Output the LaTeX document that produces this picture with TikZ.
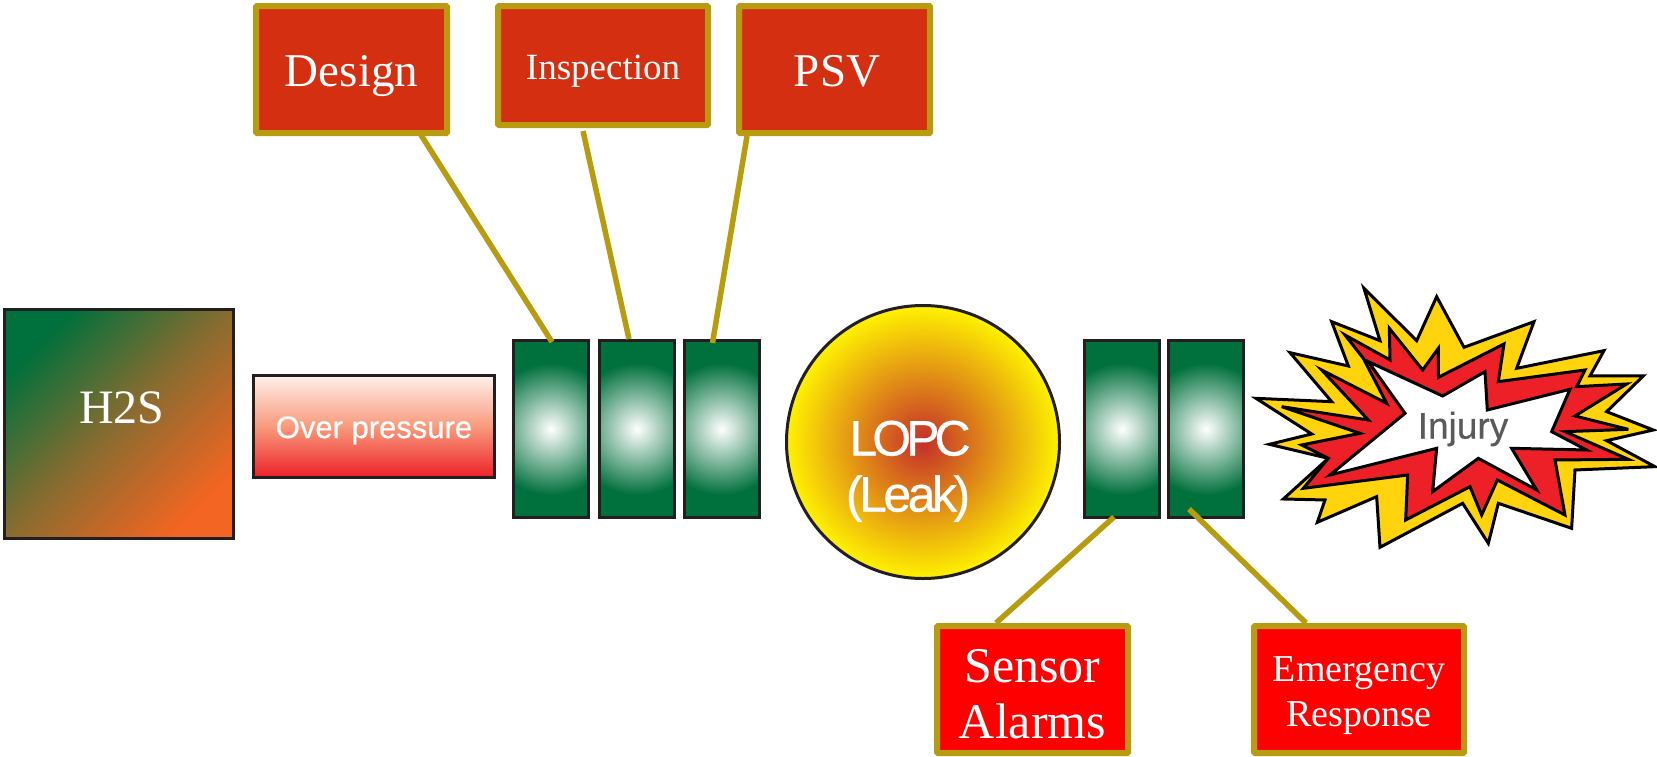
\documentclass[tikz,border=0pt]{standalone}
\usepackage{fontspec}
\setmainfont{Liberation Serif}
\newfontfamily\labelsans[FakeBold=0.6]{Liberation Sans}
\newfontfamily\tightsans[LetterSpace=-10,FakeBold=0.6]{Liberation Sans}
\newfontfamily\snugsans[LetterSpace=-7,FakeBold=0.6]{Liberation Sans}
\usetikzlibrary{calc}
\definecolor{gold}{HTML}{B89B0E}
\definecolor{brick}{HTML}{D42F10}
\definecolor{pure}{HTML}{FF0000}
\definecolor{dark}{HTML}{231F20}
\definecolor{leaf}{HTML}{00703C}
\definecolor{tang}{HTML}{F26522}
\definecolor{earth}{HTML}{8A6C30}
\definecolor{salmon}{HTML}{F89A7C}
\definecolor{blush}{HTML}{FEF0EA}
\definecolor{burstyellow}{HTML}{FFD40C}
\definecolor{burstred}{HTML}{ED2027}
\definecolor{slategrey}{HTML}{5A5A5A}
\definecolor{core}{HTML}{C42E2A}
\definecolor{rim}{HTML}{FFF200}
\pgfdeclareradialshading{glow}{\pgfpoint{0bp}{0bp}}{color(0bp)=(white); color(66bp)=(leaf)}
\tikzset{
  barrier/.style={draw=gold,line width=6pt,rounded corners=1pt,inner sep=0pt,text=white,align=center},
  greenbar/.style={draw=dark,line width=3pt,fill=leaf,inner sep=0pt,minimum width=75pt,minimum height=177pt,
    path picture={\path (path picture bounding box.center) node[inner sep=0pt,outer sep=0pt,draw=none] {\pgfuseshading{glow}};}},
  link/.style={draw=gold,line width=5.5pt},
  burst/.style={draw=black,line width=3pt,miter limit=6,line join=miter},
}
\begin{document}
\begin{tikzpicture}[x=1pt,y=-1pt]
\useasboundingbox (0,0) rectangle (1657,756);
% source, threat
\node[draw=dark,line width=3pt,inner sep=0pt,minimum width=229pt,minimum height=229pt,
  top color=leaf,bottom color=tang,shading angle=45,middle color=earth,text=white,
  font=\fontsize{48pt}{52pt}\selectfont,text height=8pt,text depth=10pt] (h2s) at (119,424) {\hspace*{6pt}H2S};
\node[draw=dark,line width=3pt,inner sep=0pt,minimum width=241pt,minimum height=102pt,
  top color=blush,bottom color=burstred,middle color=salmon,text=white,
  font=\labelsans\fontsize{31pt}{34pt}\selectfont,text height=23pt,text depth=0pt] (over) at (374,426.5) {Over pressure};
% barriers
\node[greenbar] (g1) at (551,429) {};
\node[greenbar] (g2) at (637,429) {};
\node[greenbar] (g3) at (721.5,429) {};
\node[greenbar] (g4) at (1122,429) {};
\node[greenbar] (g5) at (1206,429) {};
% top event
\node[circle,draw=dark,line width=3pt,inner sep=0pt,minimum size=273pt,
  inner color=core,outer color=rim,text=white,align=center,
  font=\fontsize{50pt}{56pt}\selectfont] (lopc) at (923,442) {\rule{0pt}{93.5pt}\hspace*{-26pt}{\tightsans LOPC}\\\hspace*{-30pt}{\snugsans (Leak)}};
% boxes
\node[barrier,fill=brick,minimum width=191pt,minimum height=127pt,font=\fontsize{47pt}{50pt}\selectfont,text height=33pt,text depth=0pt] (design) at (351.5,69.5) {Design};
\node[barrier,fill=brick,minimum width=210pt,minimum height=119pt,font=\fontsize{37pt}{40pt}\selectfont,text height=27pt,text depth=0pt] (insp) at (603,65.5) {Inspection};
\node[barrier,fill=brick,minimum width=191pt,minimum height=127pt,font=\fontsize{47pt}{50pt}\selectfont,text height=33pt,text depth=0pt] (psv) at (834.5,69.5) {\hspace*{5pt}PSV};
\node[barrier,fill=pure,minimum width=191pt,minimum height=127pt,font=\fontsize{50pt}{56pt}\selectfont] (sensor) at (1032.5,689.5) {\rule{0pt}{42pt}Sensor\\Alarms};
\node[barrier,fill=pure,minimum width=210pt,minimum height=127pt,font=\fontsize{38pt}{45pt}\selectfont] (emerg) at (1359,689.5) {\rule{0pt}{37pt}Emergency\\Response};
% connectors
\draw[link] ($(design.south)+(69.5,-1)$) -- ($(g1.north)+(1,3)$);
\draw[link] ($(insp.south)+(-20,3)$) -- ($(g2.north)+(-8,0)$);
\draw[link] ($(psv.south)+(-87.5,0)$) -- ($(g3.north)+(-9,4)$);
\draw[link] ($(g4.south)+(-8,-2)$) -- ($(sensor.north)+(-36.5,0)$);
\draw[link] ($(g5.south)+(-17,-10)$) -- ($(emerg.north)+(-53,0)$);
% explosion
\begin{scope}[shift={(1240,270)},x=0.3333pt,y=-0.3333pt]
\draw[burst,fill=burstyellow] (372,55) -- (530,212) -- (590,80) -- (672,232) -- (882,155) -- (830,295) -- (1092,242) -- (1050,318) -- (1210,318) -- (1100,425) -- (1240,480) -- (1100,512) -- (1245,590) -- (1005,600) -- (995,775) -- (775,700) -- (745,820) -- (668,700) -- (420,832) -- (410,680) -- (232,757) -- (255,690) -- (130,687) -- (265,565) -- (88,523) -- (215,492) -- (48,385) -- (275,395) -- (150,248) -- (325,288) -- (275,155) -- (420,212) -- cycle;
\draw[burst,fill=burstred] (315,195) -- (450,270) -- (448,175) -- (548,300) -- (595,235) -- (595,322) -- (792,222) -- (775,335) -- (1035,300) -- (1010,350) -- (1160,342) -- (1005,438) -- (1165,478) -- (975,485) -- (1165,568) -- (945,570) -- (975,735) -- (772,630) -- (725,735) -- (690,650) -- (497,750) -- (503,615) -- (190,655) -- (265,565) -- (185,525) -- (360,490) -- (125,410) -- (385,450) -- (245,300) -- (440,400) -- (370,265) -- cycle;
\draw[burst,fill=white] (385,275) -- (608,378) -- (735,305) -- (742,420) -- (990,358) -- (935,485) -- (1040,540) -- (815,535) -- (890,660) -- (715,565) -- (578,665) -- (590,535) -- (270,615) -- (495,430) -- cycle;
\end{scope}
\node[inner sep=0pt,text=slategrey,font=\labelsans\fontsize{37pt}{40pt}\selectfont] (injury) at (1463,429) {Injury};
\end{tikzpicture}
\end{document}
